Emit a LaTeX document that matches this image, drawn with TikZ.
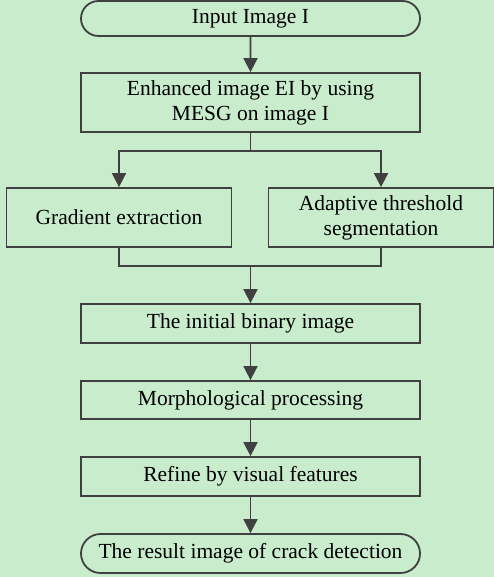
\documentclass[tikz,border=0pt]{standalone}
\usepackage{fontspec}
\setmainfont{Liberation Serif}
\newfontfamily\flowfont{Liberation Serif}
\usetikzlibrary{shapes.misc,arrows.meta}
\definecolor{bgGreen}{RGB}{200,236,204}
\definecolor{lineGray}{RGB}{64,64,64}
\newcommand{\midX}{250.5}
\newcommand{\wideW}{339pt}
\newcommand{\halfW}{225pt}

\begin{document}
\begin{tikzpicture}[x=1pt,y=-1pt,font=\flowfont\fontsize{21.5}{25}\selectfont,
    box/.style={draw=lineGray,line width=1.8pt,rectangle,align=center,
        inner sep=0pt,minimum width=\wideW},
    term/.style={box,rounded rectangle},
    flow/.style={draw=lineGray,line width=1.8pt,-{Triangle[width=14pt,length=14pt]}},
    link/.style={draw=lineGray,line width=1.8pt}]

        % Page and background
        \fill[bgGreen] (0,0) rectangle (494,577);
        \useasboundingbox (0,0) rectangle (494,577);

        % Boxes of the flow
        \node[term,minimum height=35pt] (input) at (\midX,18.5) {Input Image I};
        \node[box,minimum height=59pt] (enh) at (\midX,102.5) {Enhanced image EI by using\\MESG on image I};
        \node[box,minimum width=\halfW,minimum height=59pt] (grad) at (119,217.5) {Gradient extraction};
        \node[box,minimum width=\halfW,minimum height=59pt] (adapt) at (381,217.5) {Adaptive threshold\\segmentation};
        \node[box,minimum height=39pt] (binary) at (\midX,323.5) {The initial binary image};
        \node[box,minimum height=38pt] (morph) at (\midX,400) {Morphological processing};
        \node[box,minimum height=39pt] (refine) at (\midX,476.5) {Refine by visual features};
        \node[term,minimum height=39pt] (result) at (\midX,553.5) {The result image of crack detection};

        % Split and join points
        \coordinate (split) at (\midX,151);
        \coordinate (join) at (\midX,266);

        % Connectors
        \draw[flow] (input) -- (enh);
        \draw[link] (enh) -- (split);
        \draw[flow] (split) -| (grad.north);
        \draw[flow] (split) -| (adapt.north);
        \draw[link] (grad.south) |- (join) -| (adapt.south);
        \draw[flow] (join) -- (binary);
        \draw[flow] (binary) -- (morph);
        \draw[flow] (morph) -- (refine);
        \draw[flow] (refine) -- (result);
    \end{tikzpicture}
\end{document}
